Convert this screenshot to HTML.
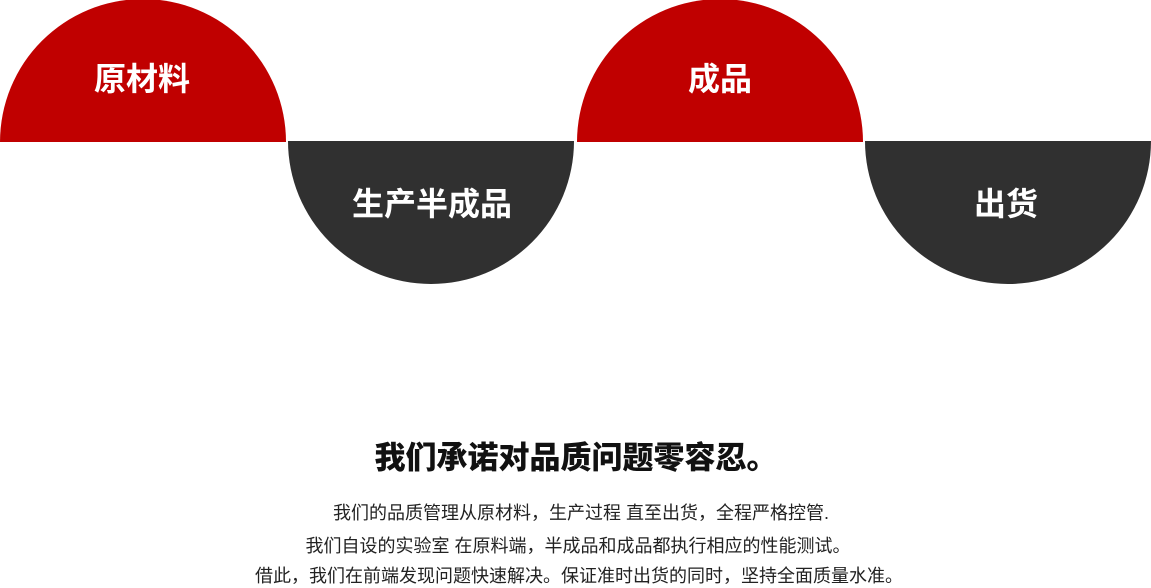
<!DOCTYPE html>
<html><head><meta charset="utf-8"><style>
body{margin:0;width:1151px;height:585px;background:#fff;overflow:hidden;position:relative;font-family:"Liberation Sans","Noto Sans CJK SC",sans-serif}
.t{position:absolute;white-space:nowrap;transform:translate(-50%,-50%)}
.w{color:#fff;font-size:32px;font-weight:bold}
.p{color:#222;font-size:18px}
</style></head><body>
<svg width="1151" height="585" style="position:absolute;left:0;top:0">
<path d="M0 142 A143 143 0 0 1 286 142 Z" fill="#c00000"/>
<path d="M288 141 A143 143 0 0 0 574 141 Z" fill="#303030"/>
<path d="M577 142 A143 143 0 0 1 863 142 Z" fill="#c00000"/>
<path d="M865 141 A143 143 0 0 0 1151 141 Z" fill="#303030"/>
</svg>
<div class="t w" style="left:142px;top:77px">原材料</div>
<div class="t w" style="left:432px;top:202px">生产半成品</div>
<div class="t w" style="left:720px;top:77px">成品</div>
<div class="t w" style="left:1006px;top:202px">出货</div>
<div class="t" style="left:576px;top:455px;color:#111;font-size:31px;font-weight:900">我们承诺对品质问题零容忍。</div>
<div class="t p" style="left:581px;top:512px">我们的品质管理从原材料，生产过程 直至出货，全程严格控管.</div>
<div class="t p" style="left:578px;top:545px">我们自设的实验室 在原料端，半成品和成品都执行相应的性能测试。</div>
<div class="t p" style="left:579px;top:575px">借此，我们在前端发现问题快速解决。保证准时出货的同时，坚持全面质量水准。</div>
</body></html>
